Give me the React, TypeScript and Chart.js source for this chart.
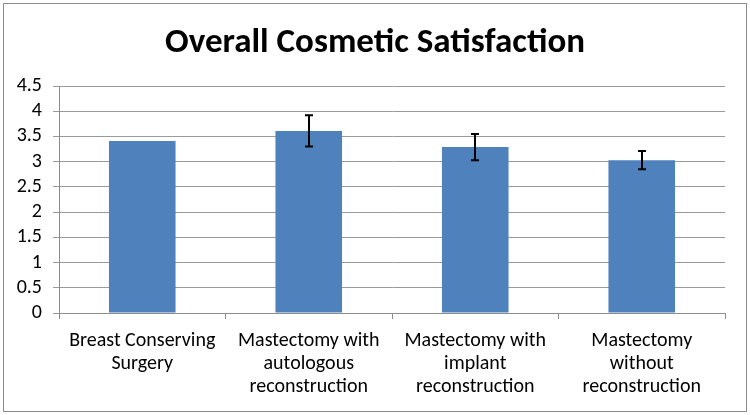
import React, { useEffect, useRef } from "react";
import { Chart, registerables } from "chart.js";

Chart.register(...registerables);

const categories: string[][] = [
  ["Breast Conserving", "Surgery"],
  ["Mastectomy with", "autologous", "reconstruction"],
  ["Mastectomy with", "implant", "reconstruction"],
  ["Mastectomy", "without", "reconstruction"],
];
const values: number[] = [3.41, 3.61, 3.29, 3.03];
const errors: (number | null)[] = [null, 0.31, 0.26, 0.18];
const titleText = "Overall Cosmetic Satisfaction";

const FONT = "Calibri, Carlito, Lato, 'Open Sans', sans-serif";

const errorBarPlugin = {
  id: "errorBars",
  afterDatasetsDraw(chart: any) {
    const ctx = chart.ctx;
    const meta = chart.getDatasetMeta(0);
    const y = chart.scales.y;
    ctx.save();
    ctx.strokeStyle = "#000";
    ctx.lineWidth = 2;
    meta.data.forEach((bar: any, i: number) => {
      const e = errors[i];
      if (e == null) return;
      const yt = y.getPixelForValue(values[i] + e);
      const yb = y.getPixelForValue(values[i] - e);
      const x = Math.round(bar.x);
      const cap = 4;
      ctx.beginPath();
      ctx.moveTo(x, yt);
      ctx.lineTo(x, yb);
      ctx.moveTo(x - cap, yt);
      ctx.lineTo(x + cap, yt);
      ctx.moveTo(x - cap, yb);
      ctx.lineTo(x + cap, yb);
      ctx.stroke();
    });
    ctx.restore();
  },
};

const borderPlugin = {
  id: "outerBorder",
  afterDraw(chart: any) {
    const ctx = chart.ctx;
    ctx.save();
    ctx.strokeStyle = "#8c8c8c";
    ctx.lineWidth = 1;
    ctx.strokeRect(3.5, 3.5, chart.width - 7, chart.height - 7);
    ctx.restore();
  },
};

export default function App() {
  const ref = useRef<HTMLCanvasElement | null>(null);
  useEffect(() => {
    document.body.style.margin = "0";
    const canvas = ref.current;
    if (!canvas) return;
    const chart = new Chart(canvas, {
      type: "bar",
      data: {
        labels: categories,
        datasets: [
          {
            data: values,
            backgroundColor: "#4F81BD",
            borderWidth: 0,
            barPercentage: 0.4,
            categoryPercentage: 1,
          },
        ],
      },
      options: {
        responsive: false,
        animation: false,
        devicePixelRatio: 1,
        layout: { padding: { left: 3, right: 3, top: 0, bottom: 0 } },
        plugins: {
          legend: { display: false },
          tooltip: { enabled: false },
          title: {
            display: true,
            text: titleText,
            color: "#000",
            font: { family: FONT, size: 35, weight: "bold", lineHeight: 1.2 },
            padding: { top: 22, bottom: 22 },
          },
        },
        scales: {
          x: {
            afterFit(scale: any) {
              scale.height = 102;
            },
            grid: {
              display: true,
              offset: true,
              drawOnChartArea: false,
              drawTicks: true,
              tickLength: 6,
              color: "#8c8c8c",
            },
            border: { display: true, color: "#8c8c8c", width: 1 },
            ticks: {
              color: "#000",
              font: { family: FONT, size: 20, lineHeight: 1.15 },
              padding: 10,
              maxRotation: 0,
              autoSkip: false,
            },
          },
          y: {
            min: 0,
            max: 4.5,
            afterFit(scale: any) {
              scale.width = 56;
            },
            grid: {
              color: "#9a9a9a",
              tickLength: 6,
              drawTicks: true,
            },
            border: { display: true, color: "#8c8c8c", width: 1 },
            ticks: {
              stepSize: 0.5,
              autoSkip: false,
              color: "#000",
              font: { family: FONT, size: 20 },
              padding: 11,
              callback: (v: any) => String(v),
            },
          },
          yRight: {
            position: "right",
            display: true,
            min: 0,
            max: 4.5,
            afterFit(scale: any) {
              scale.width = 22;
            },
            grid: { drawOnChartArea: false, drawTicks: false, display: false },
            border: { display: false },
            ticks: { display: false },
          },
        },
      },
      plugins: [errorBarPlugin, borderPlugin],
    });
    return () => chart.destroy();
  }, []);
  return (
    <div style={{ width: 750, height: 415, background: "#fff" }}>
      <canvas ref={ref} width={750} height={415} />
    </div>
  );
}
